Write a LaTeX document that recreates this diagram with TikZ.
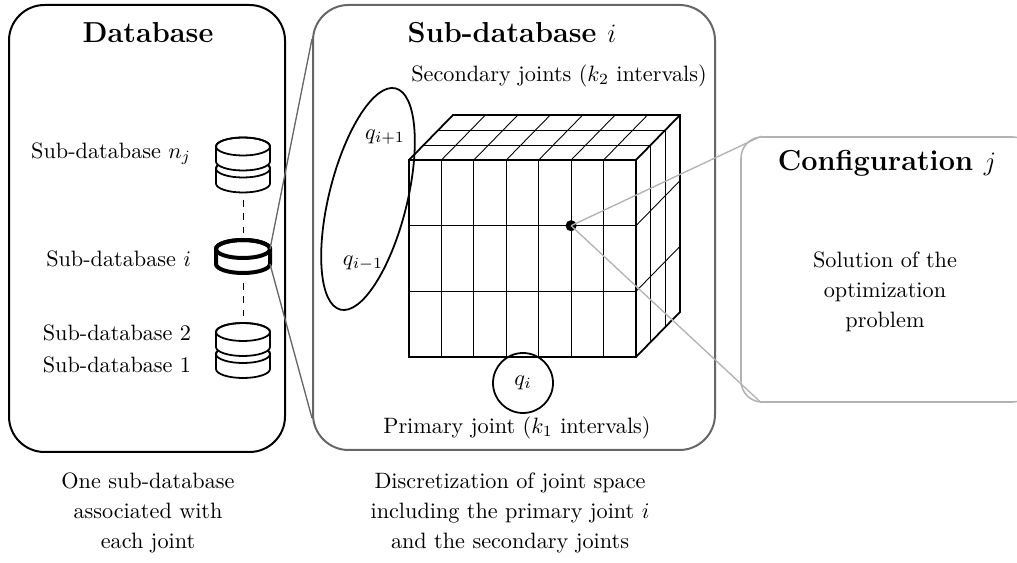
\documentclass[tikz,border=0pt]{standalone}
\usepackage{tikz}
\usetikzlibrary{calc,fit}

% one disk of a database stack: [options]{x}{y of top ellipse}
\newcommand{\dbdisk}[3][]{%
\filldraw[fill=white,#1] (#2-27,#3) -- ++(0,15) arc (180:360:12.15pt and 4.05pt) -- ++(0,-15) arc (0:180:12.15pt and 4.05pt) -- cycle;
\draw[#1] (#2,#3) ellipse (12.15pt and 4.05pt);}

\begin{document}
\begin{tikzpicture}[thick, x=0.45pt, y=-0.45pt,
  panel/.style={draw, rounded corners=16pt, inner sep=0pt, line width=0.9pt},
  boxtitle/.style={font=\fontsize{13}{16}\selectfont\bfseries},
  dblabel/.style={anchor=east, inner sep=0pt},
  caption/.style={align=center, font=\fontsize{10}{13.5}\selectfont},
  zoomline/.style={draw=black!60, semithick}]
\useasboundingbox (0,0) rectangle (1017,563);
%database
\node[panel, fit={(9,5) (285,452)}] (dbbox) {};
\node[boxtitle] (dbtitle) at (148,33) {Database};
\dbdisk{243}{168.5}
\dbdisk{243}{146.5}
\dbdisk[line width=1.8pt]{243}{249}
\dbdisk{243}{354}
\dbdisk{243}{332}
\coordinate (nj) at (243,200);
\coordinate (itop) at (243,234);
\coordinate (ibot) at (243,283);
\coordinate (two) at (243,317);
\draw[thin, dashed] (nj) -- (itop);
\draw[thin, dashed] (ibot) -- (two);
\coordinate (ine) at (270,249);
\coordinate (ise) at (270,264);
\node[dblabel] (lbnj) at (192,154) {Sub-database $n_j$};
\node[dblabel] (lbi) at (192,259) {Sub-database $i$};
\node[dblabel] (lbtwo) at (192,333) {Sub-database 2};
\node[dblabel] (lbone) at (192,365) {Sub-database 1};
%sub-database i
\node[panel, draw=black!60, fit={(313,5) (715,450)}] (subbox) {};
\node[boxtitle] (subtitle) at (512,33) {Sub-database $i$};
\node (sectext) at (559,76) {Secondary joints ($k_2$ intervals)};
\node (primtext) at (517,428) {Primary joint ($k_1$ intervals)};
\draw[zoomline] (ine) -- ($(subbox.north west)+(0,35)$);
\draw[zoomline] (ise) -- ($(subbox.south west)+(0,-33)$);
%grid of the cube
\foreach \k in {1,...,6} \draw[thin] ({409+\k*32.43},160) -- ++(0,197);
\foreach \r in {1,2} \draw[thin] (409,{160+\r*65.67}) -- ++(227,0);
\foreach \k in {1,...,6} \draw[thin] ({409+\k*32.43},160) -- ++(44,-45);
\foreach \j in {1,2} \draw[thin] ({409+\j*14.67},{160-\j*15}) -- ++(227,0);
\foreach \j in {1,2} \draw[thin] ({636+\j*14.67},{160-\j*15}) -- ++(0,197);
\foreach \r in {1,2} \draw[thin] (636,{160+\r*65.67}) -- ++(44,-45);
\draw (409,160) rectangle (636,357);
\draw (409,160) -- (453,115) -- (680,115) -- (680,312) -- (636,357);
\draw (636,160) -- (680,115);
%joints
\draw[rotate around={76:(368,199)}] (368,199) ellipse (114 and 39);
\node (qup) at (385,137) {$q_{i+1}$};
\node (qdown) at (363,263) {$q_{i-1}$};
\node[draw, circle, minimum size=27pt, inner sep=0pt] (qi) at (523,383) {$q_i$};
\node[circle, fill, inner sep=0pt, minimum size=5pt] (sol) at (571.1,225.7) {};
%configuration j
\node[panel, draw=black!30, line width=0.7pt, rounded corners=9.5pt, fit={(741,137) (1034,402)}] (cfgbox) {};
\node[boxtitle] (cfgtitle) at (887,163) {Configuration $j$};
\node[caption] (cfgtext) at (885,292) {Solution of the\\optimization\\problem};
\draw[zoomline, draw=black!30] (sol.center) -- ($(cfgbox.north west)+(21,0)$);
\draw[zoomline, draw=black!30] (sol.center) -- ($(cfgbox.south west)+(21,0)$);
%notes
\node[caption] (dbcap) at (148,513) {One sub-database\\associated with\\each joint};
\node[caption] (subcap) at (510,513) {Discretization of joint space\\including the primary joint $i$\\and the secondary joints};
\end{tikzpicture}
\end{document}
